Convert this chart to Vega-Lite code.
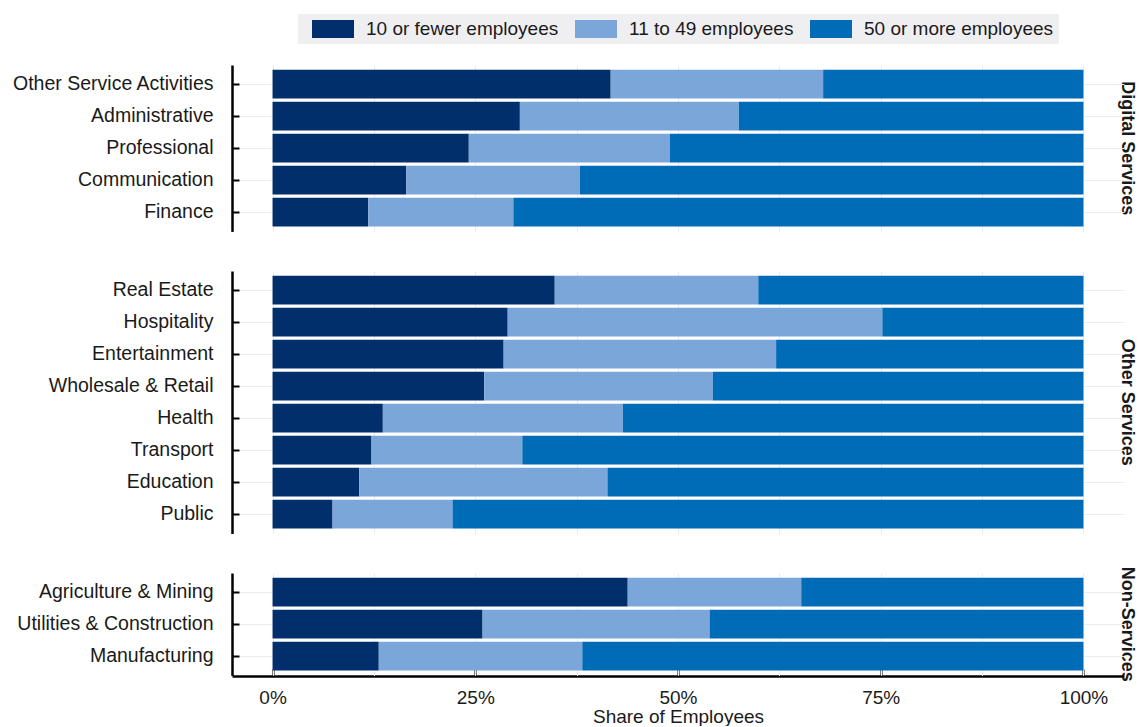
{
  "$schema": "https://vega.github.io/schema/vega-lite/v6.json",
  "padding": {"left": 11, "right": 0, "top": 14, "bottom": 0},
  "background": "white",
  "config": {
    "font": "Liberation Sans",
    "view": {"stroke": null},
    "axis": {"labelFont": "Liberation Sans", "titleFont": "Liberation Sans"}
  },
  "data": {
    "values": [
      {"group": "Digital Services", "sector": "Other Service Activities", "rank": 1, "size": "10 or fewer employees", "share": 0.417},
      {"group": "Digital Services", "sector": "Other Service Activities", "rank": 1, "size": "11 to 49 employees", "share": 0.262},
      {"group": "Digital Services", "sector": "Other Service Activities", "rank": 1, "size": "50 or more employees", "share": 0.321},
      {"group": "Digital Services", "sector": "Administrative", "rank": 2, "size": "10 or fewer employees", "share": 0.305},
      {"group": "Digital Services", "sector": "Administrative", "rank": 2, "size": "11 to 49 employees", "share": 0.270},
      {"group": "Digital Services", "sector": "Administrative", "rank": 2, "size": "50 or more employees", "share": 0.425},
      {"group": "Digital Services", "sector": "Professional", "rank": 3, "size": "10 or fewer employees", "share": 0.242},
      {"group": "Digital Services", "sector": "Professional", "rank": 3, "size": "11 to 49 employees", "share": 0.248},
      {"group": "Digital Services", "sector": "Professional", "rank": 3, "size": "50 or more employees", "share": 0.510},
      {"group": "Digital Services", "sector": "Communication", "rank": 4, "size": "10 or fewer employees", "share": 0.165},
      {"group": "Digital Services", "sector": "Communication", "rank": 4, "size": "11 to 49 employees", "share": 0.214},
      {"group": "Digital Services", "sector": "Communication", "rank": 4, "size": "50 or more employees", "share": 0.621},
      {"group": "Digital Services", "sector": "Finance", "rank": 5, "size": "10 or fewer employees", "share": 0.118},
      {"group": "Digital Services", "sector": "Finance", "rank": 5, "size": "11 to 49 employees", "share": 0.179},
      {"group": "Digital Services", "sector": "Finance", "rank": 5, "size": "50 or more employees", "share": 0.703},
      {"group": "Other Services", "sector": "Real Estate", "rank": 1, "size": "10 or fewer employees", "share": 0.348},
      {"group": "Other Services", "sector": "Real Estate", "rank": 1, "size": "11 to 49 employees", "share": 0.251},
      {"group": "Other Services", "sector": "Real Estate", "rank": 1, "size": "50 or more employees", "share": 0.401},
      {"group": "Other Services", "sector": "Hospitality", "rank": 2, "size": "10 or fewer employees", "share": 0.290},
      {"group": "Other Services", "sector": "Hospitality", "rank": 2, "size": "11 to 49 employees", "share": 0.462},
      {"group": "Other Services", "sector": "Hospitality", "rank": 2, "size": "50 or more employees", "share": 0.248},
      {"group": "Other Services", "sector": "Entertainment", "rank": 3, "size": "10 or fewer employees", "share": 0.285},
      {"group": "Other Services", "sector": "Entertainment", "rank": 3, "size": "11 to 49 employees", "share": 0.336},
      {"group": "Other Services", "sector": "Entertainment", "rank": 3, "size": "50 or more employees", "share": 0.379},
      {"group": "Other Services", "sector": "Wholesale & Retail", "rank": 4, "size": "10 or fewer employees", "share": 0.261},
      {"group": "Other Services", "sector": "Wholesale & Retail", "rank": 4, "size": "11 to 49 employees", "share": 0.282},
      {"group": "Other Services", "sector": "Wholesale & Retail", "rank": 4, "size": "50 or more employees", "share": 0.457},
      {"group": "Other Services", "sector": "Health", "rank": 5, "size": "10 or fewer employees", "share": 0.136},
      {"group": "Other Services", "sector": "Health", "rank": 5, "size": "11 to 49 employees", "share": 0.296},
      {"group": "Other Services", "sector": "Health", "rank": 5, "size": "50 or more employees", "share": 0.568},
      {"group": "Other Services", "sector": "Transport", "rank": 6, "size": "10 or fewer employees", "share": 0.122},
      {"group": "Other Services", "sector": "Transport", "rank": 6, "size": "11 to 49 employees", "share": 0.186},
      {"group": "Other Services", "sector": "Transport", "rank": 6, "size": "50 or more employees", "share": 0.692},
      {"group": "Other Services", "sector": "Education", "rank": 7, "size": "10 or fewer employees", "share": 0.107},
      {"group": "Other Services", "sector": "Education", "rank": 7, "size": "11 to 49 employees", "share": 0.306},
      {"group": "Other Services", "sector": "Education", "rank": 7, "size": "50 or more employees", "share": 0.587},
      {"group": "Other Services", "sector": "Public", "rank": 8, "size": "10 or fewer employees", "share": 0.074},
      {"group": "Other Services", "sector": "Public", "rank": 8, "size": "11 to 49 employees", "share": 0.148},
      {"group": "Other Services", "sector": "Public", "rank": 8, "size": "50 or more employees", "share": 0.778},
      {"group": "Non-Services", "sector": "Agriculture & Mining", "rank": 1, "size": "10 or fewer employees", "share": 0.438},
      {"group": "Non-Services", "sector": "Agriculture & Mining", "rank": 1, "size": "11 to 49 employees", "share": 0.214},
      {"group": "Non-Services", "sector": "Agriculture & Mining", "rank": 1, "size": "50 or more employees", "share": 0.348},
      {"group": "Non-Services", "sector": "Utilities & Construction", "rank": 2, "size": "10 or fewer employees", "share": 0.259},
      {"group": "Non-Services", "sector": "Utilities & Construction", "rank": 2, "size": "11 to 49 employees", "share": 0.280},
      {"group": "Non-Services", "sector": "Utilities & Construction", "rank": 2, "size": "50 or more employees", "share": 0.461},
      {"group": "Non-Services", "sector": "Manufacturing", "rank": 3, "size": "10 or fewer employees", "share": 0.131},
      {"group": "Non-Services", "sector": "Manufacturing", "rank": 3, "size": "11 to 49 employees", "share": 0.251},
      {"group": "Non-Services", "sector": "Manufacturing", "rank": 3, "size": "50 or more employees", "share": 0.618}
    ]
  },
  "facet": {
    "row": {
      "field": "group",
      "type": "nominal",
      "sort": ["Digital Services", "Other Services", "Non-Services"],
      "header": {
        "title": null,
        "labelOrient": "right",
        "labelAngle": 90,
        "labelFontSize": 18,
        "labelFontWeight": "bold",
        "labelColor": "#1a1a1a",
        "labelFont": "Liberation Sans",
        "labelPadding": -6
      }
    }
  },
  "spacing": 39,
  "resolve": {"scale": {"y": "independent"}},
  "spec": {
    "width": 892,
    "height": {"step": 32},
    "mark": {"type": "bar"},
    "encoding": {
      "y": {
        "field": "sector",
        "type": "nominal",
        "sort": {"field": "rank", "op": "min"},
        "scale": {"paddingInner": 0.1, "paddingOuter": 0.15},
        "axis": {
          "title": null,
          "bandPosition": 0.5,
          "labelFontSize": 19.5,
          "labelLimit": 400,
          "labelColor": "#1a1a1a",
          "domainColor": "black",
          "domainWidth": 2.5,
          "tickColor": "black",
          "tickWidth": 2,
          "tickSize": -7,
          "labelPadding": 26,
          "grid": true,
          "gridColor": "#ebebeb",
          "gridWidth": 1
        }
      },
      "x": {
        "field": "share",
        "type": "quantitative",
        "stack": "zero",
        "scale": {"domain": [-0.05, 1.05], "nice": false, "zero": false},
        "axis": {
          "title": "Share of Employees",
          "titleFontSize": 19,
          "titleFontWeight": "normal",
          "titleColor": "#1a1a1a",
          "titlePadding": 0,
          "values": [0, 0.125, 0.25, 0.375, 0.5, 0.625, 0.75, 0.875, 1],
          "labelExpr": "datum.value * 4 == round(datum.value * 4) ? format(datum.value, '.0%') : ''",
          "tickOpacity": {"condition": {"test": "datum.value * 4 == round(datum.value * 4)", "value": 1}, "value": 0},
          "labelFontSize": 19,
          "labelColor": "#1a1a1a",
          "domainColor": "black",
          "domainWidth": 2.5,
          "tickColor": "black",
          "tickWidth": 2,
          "tickSize": -7,
          "labelPadding": 19,
          "grid": true,
          "gridColor": "#ebebeb",
          "gridWidth": 1
        }
      },
      "color": {
        "field": "size",
        "type": "nominal",
        "scale": {
          "domain": ["10 or fewer employees", "11 to 49 employees", "50 or more employees"],
          "range": ["#002F6C", "#7BA6D9", "#006BB6"]
        },
        "legend": {
          "title": null,
          "orient": "none",
          "direction": "horizontal",
          "legendX": 66,
          "legendY": -51,
          "fillColor": "#efeff2",
          "padding": 5,
          "labelFontSize": 19,
          "labelColor": "#1a1a1a",
          "labelFont": "Liberation Sans",
          "labelOffset": 43,
          "columnPadding": 7,
          "symbolType": "M-0.1,-0.9H4.1V0.9H-0.1Z",
          "symbolSize": 400,
          "symbolStrokeWidth": 0,
          "labelLimit": 400
        }
      },
      "order": {"field": "size", "type": "nominal"}
    }
  }
}
